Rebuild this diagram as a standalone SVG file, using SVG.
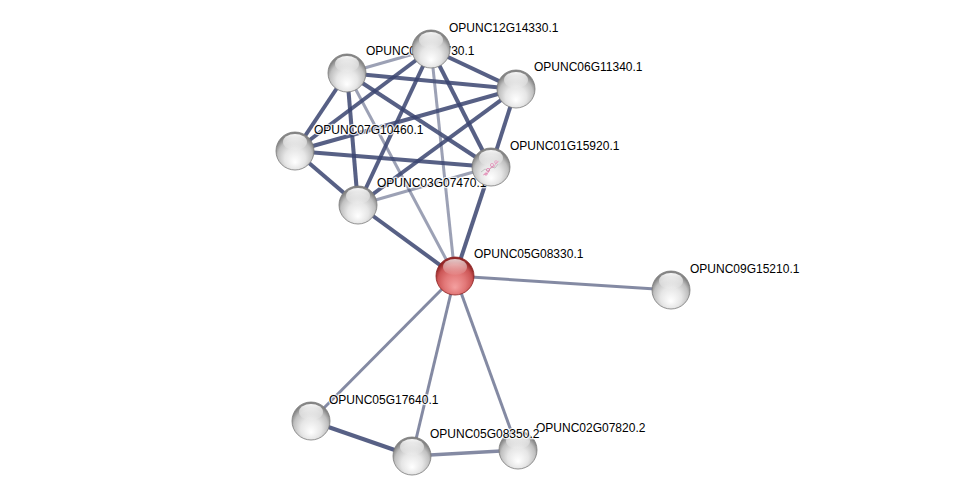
<svg xmlns="http://www.w3.org/2000/svg" width="975" height="501" viewBox="0 0 975 501">
<defs>
<radialGradient id="gw" cx="0.5" cy="0.62" r="0.55" fx="0.5" fy="0.8">
<stop offset="0" stop-color="#ffffff"/>
<stop offset="0.5" stop-color="#e6e6e6"/>
<stop offset="0.82" stop-color="#c0c0c0"/>
<stop offset="1" stop-color="#858585"/>
</radialGradient>
<radialGradient id="gr" cx="0.5" cy="0.62" r="0.55" fx="0.5" fy="0.8">
<stop offset="0" stop-color="#f4a0a0"/>
<stop offset="0.5" stop-color="#e27878"/>
<stop offset="0.82" stop-color="#cc5656"/>
<stop offset="1" stop-color="#932626"/>
</radialGradient>
<linearGradient id="hl" x1="0" y1="0" x2="0" y2="1">
<stop offset="0" stop-color="#ffffff" stop-opacity="0.95"/>
<stop offset="1" stop-color="#ffffff" stop-opacity="0.05"/>
</linearGradient>
<style>
.e{fill:none;stroke-linecap:butt}
.s{stroke:#3a4470;stroke-opacity:0.85;stroke-width:4}
.m{stroke:#4a5378;stroke-opacity:0.68;stroke-width:3}
.l{stroke:#4a5378;stroke-opacity:0.55;stroke-width:3}
.nw{fill:url(#gw);stroke:#7a7a7a;stroke-width:0.8}
.nr{fill:url(#gr);stroke:#8a2020;stroke-width:0.8}
.h{fill:url(#hl)}
.t{font-family:"Liberation Sans",Arial,sans-serif;font-size:12px;fill:#000;stroke:#ffffff;stroke-width:2.5px;stroke-opacity:0.8;paint-order:stroke;stroke-linejoin:round}
</style>
</defs>
<rect width="975" height="501" fill="#ffffff"/>
<g id="connectors" class="e">
<line class="s" x1="347" y1="73" x2="516" y2="89"/>
<line class="s" x1="347" y1="73" x2="295" y2="151"/>
<line class="s" x1="347" y1="73" x2="358" y2="205"/>
<line class="s" x1="347" y1="73" x2="491" y2="167"/>
<line class="l" x1="347" y1="73" x2="431" y2="49"/>
<line class="l" x1="347" y1="73" x2="455" y2="276"/>
<line class="s" x1="431" y1="49" x2="516" y2="89"/>
<line class="s" x1="431" y1="49" x2="295" y2="151"/>
<line class="s" x1="431" y1="49" x2="358" y2="205"/>
<line class="s" x1="431" y1="49" x2="491" y2="167"/>
<line class="l" x1="431" y1="49" x2="455" y2="276"/>
<line class="s" x1="516" y1="89" x2="295" y2="151"/>
<line class="s" x1="516" y1="89" x2="358" y2="205"/>
<line class="s" x1="516" y1="89" x2="491" y2="167"/>
<line class="s" x1="295" y1="151" x2="491" y2="167"/>
<line class="s" x1="295" y1="151" x2="358" y2="205"/>
<line class="l" x1="358" y1="205" x2="491" y2="167"/>
<line class="s" x1="358" y1="205" x2="455" y2="276"/>
<line class="s" x1="491" y1="167" x2="455" y2="276"/>
<line class="m" x1="455" y1="276" x2="671" y2="290"/>
<line class="m" x1="455" y1="276" x2="311" y2="421"/>
<line class="m" x1="455" y1="276" x2="412" y2="456"/>
<line class="m" x1="455" y1="276" x2="518" y2="450"/>
<line class="s" x1="311" y1="421" x2="412" y2="456"/>
<line class="m" x1="412" y1="456" x2="518" y2="450" style="stroke-width:3.5"/>
</g>
<g id="n-OPUNC09G15210.1"><circle class="nw" cx="671" cy="290" r="19"/><ellipse class="h" cx="671" cy="281" rx="12" ry="8"/><text class="t" x="690" y="273">OPUNC09G15210.1</text></g>
<g id="n-OPUNC05G17640.1"><circle class="nw" cx="311" cy="421" r="19"/><ellipse class="h" cx="311" cy="412" rx="12" ry="8"/><text class="t" x="329" y="404">OPUNC05G17640.1</text></g>
<g id="n-OPUNC02G07820.2"><circle class="nw" cx="518" cy="450" r="19"/><ellipse class="h" cx="518" cy="441" rx="12" ry="8"/><text class="t" x="536" y="432">OPUNC02G07820.2</text></g>
<g id="n-OPUNC05G08350.2"><circle class="nw" cx="412" cy="456" r="19"/><ellipse class="h" cx="412" cy="447" rx="12" ry="8"/><text class="t" x="430" y="438">OPUNC05G08350.2</text></g>
<g id="n-OPUNC07G10460.1"><circle class="nw" cx="295" cy="151" r="19"/><ellipse class="h" cx="295" cy="142" rx="12" ry="8"/><text class="t" x="314" y="134">OPUNC07G10460.1</text></g>
<g id="n-OPUNC08G11730.1"><circle class="nw" cx="347" cy="73" r="19"/><ellipse class="h" cx="347" cy="64" rx="12" ry="8"/><text class="t" x="366" y="55">OPUNC08G11730.1</text></g>
<g id="n-OPUNC12G14330.1"><circle class="nw" cx="431" cy="49" r="19"/><ellipse class="h" cx="431" cy="40" rx="12" ry="8"/><text class="t" x="449" y="32">OPUNC12G14330.1</text></g>
<g id="n-OPUNC06G11340.1"><circle class="nw" cx="516" cy="89" r="19"/><ellipse class="h" cx="516" cy="80" rx="12" ry="8"/><text class="t" x="534" y="71">OPUNC06G11340.1</text></g>
<g id="n-OPUNC03G07470.1"><circle class="nw" cx="358" cy="205" r="19"/><ellipse class="h" cx="358" cy="196" rx="12" ry="8"/><text class="t" x="377" y="187">OPUNC03G07470.1</text></g>
<g id="n-OPUNC01G15920.1"><circle class="nw" cx="491" cy="167" r="19"/>
<g fill="none" stroke-width="0.7">
<path d="M481 172 l4 -3 l3 2 l4 -4 l3 1 l3 -4" stroke="#b0b0b0"/>
<path d="M483 175 l5 -2 l2 -5 l4 -1 l2 -4 l3 -2" stroke="#e088b0"/>
<circle cx="488" cy="170" r="1.6" stroke="#e070a8"/>
<circle cx="492" cy="165" r="1.6" stroke="#e070a8"/>
<circle cx="496" cy="162" r="1.4" stroke="#e070a8"/>
<circle cx="486" cy="174" r="1.2" stroke="#e070a8"/>
</g>
<ellipse class="h" cx="491" cy="158" rx="12" ry="8"/><text class="t" x="510" y="150">OPUNC01G15920.1</text></g>
<g id="n-OPUNC05G08330.1"><circle class="nr" cx="455" cy="276" r="19"/><ellipse class="h" cx="455" cy="267" rx="12" ry="8" style="opacity:0.8"/><text class="t" x="474" y="258">OPUNC05G08330.1</text></g>
</svg>
